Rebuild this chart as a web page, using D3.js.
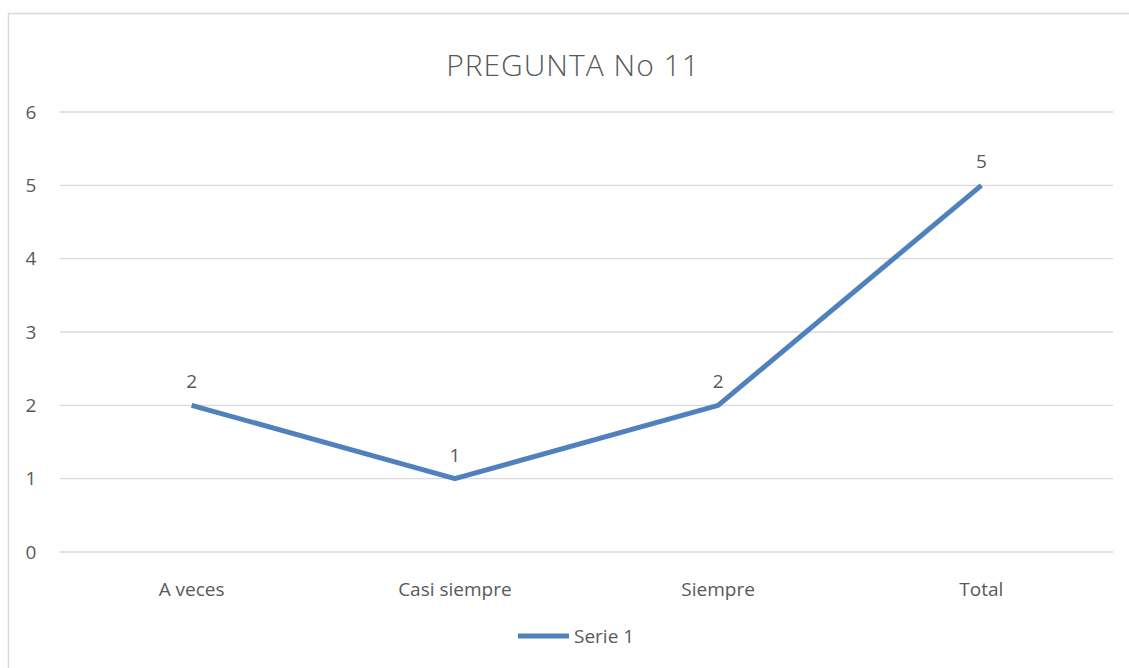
<!DOCTYPE html>
<html>
<head>
<meta charset="utf-8">
<script src="https://cdn.jsdelivr.net/npm/d3@7"></script>
<style>
  body { margin: 0; background: #fff; }
  svg text { font-family: "Open Sans", "Noto Sans", sans-serif; fill: #595959; }
</style>
</head>
<body>
<svg width="1129" height="668"></svg>
<script>
const svg = d3.select("svg");
const width = +svg.attr("width");
const height = +svg.attr("height");

// data
const categories = ["A veces", "Casi siempre", "Siempre", "Total"];
const serie1 = [2, 1, 2, 5];
const yTicks = [0, 1, 2, 3, 4, 5, 6];
const seriesName = "Serie 1";
const title = "PREGUNTA No 11";

const margin = { left: 60, right: 16, top: 112, bottom: 116 };
const lineColor = "#4f81bd";
const labelSize = "19px";

// chart border
svg.append("rect")
    .attr("x", 8.5).attr("y", 13.5)
    .attr("width", width + 10).attr("height", height + 10)
    .attr("fill", "none")
    .attr("stroke", "#d9d9d9")
    .attr("stroke-width", 1.5);

const x = d3.scalePoint()
    .domain(categories)
    .range([margin.left, width - margin.right])
    .padding(0.5);

const y = d3.scaleLinear()
    .domain([0, 6])
    .range([height - margin.bottom, margin.top]);

// gridlines
svg.append("g")
    .selectAll("line")
    .data(yTicks)
    .enter().append("line")
    .attr("x1", margin.left)
    .attr("x2", width - margin.right)
    .attr("y1", d => y(d))
    .attr("y2", d => y(d))
    .attr("stroke", "#d9d9d9")
    .attr("stroke-width", 1.3);

// y labels
svg.append("g")
    .selectAll("text")
    .data(yTicks)
    .enter().append("text")
    .attr("x", 31)
    .attr("y", d => y(d))
    .attr("dy", "0.35em")
    .attr("text-anchor", "middle")
    .style("font-size", labelSize)
    .text(d => d);

// x labels
svg.append("g")
    .selectAll("text")
    .data(categories)
    .enter().append("text")
    .attr("x", d => x(d))
    .attr("y", y(0) + 44)
    .attr("text-anchor", "middle")
    .style("font-size", labelSize)
    .text(d => d);

// line
const line = d3.line()
    .x((d, i) => x(categories[i]))
    .y(d => y(d));

svg.append("path")
    .datum(serie1)
    .attr("d", line)
    .attr("fill", "none")
    .attr("stroke", lineColor)
    .attr("stroke-width", 5)
    .attr("stroke-linejoin", "round");

// value labels
svg.append("g")
    .selectAll("text")
    .data(serie1)
    .enter().append("text")
    .attr("x", (d, i) => x(categories[i]))
    .attr("y", d => y(d) - 17)
    .attr("text-anchor", "middle")
    .style("font-size", labelSize)
    .text(d => d);

// title (light weight, a little spaced like the original)
svg.append("text")
    .attr("x", 573)
    .attr("y", 76)
    .attr("text-anchor", "middle")
    .style("font-size", "30px")
    .style("font-weight", 300)
    .style("letter-spacing", "1px")
    .text(title);

// legend
const legend = svg.append("g");
legend.append("line")
    .attr("x1", 518).attr("x2", 569)
    .attr("y1", 636).attr("y2", 636)
    .attr("stroke", lineColor)
    .attr("stroke-width", 5);
legend.append("text")
    .attr("x", 574)
    .attr("y", 643)
    .style("font-size", labelSize)
    .text(seriesName);
</script>
</body>
</html>
